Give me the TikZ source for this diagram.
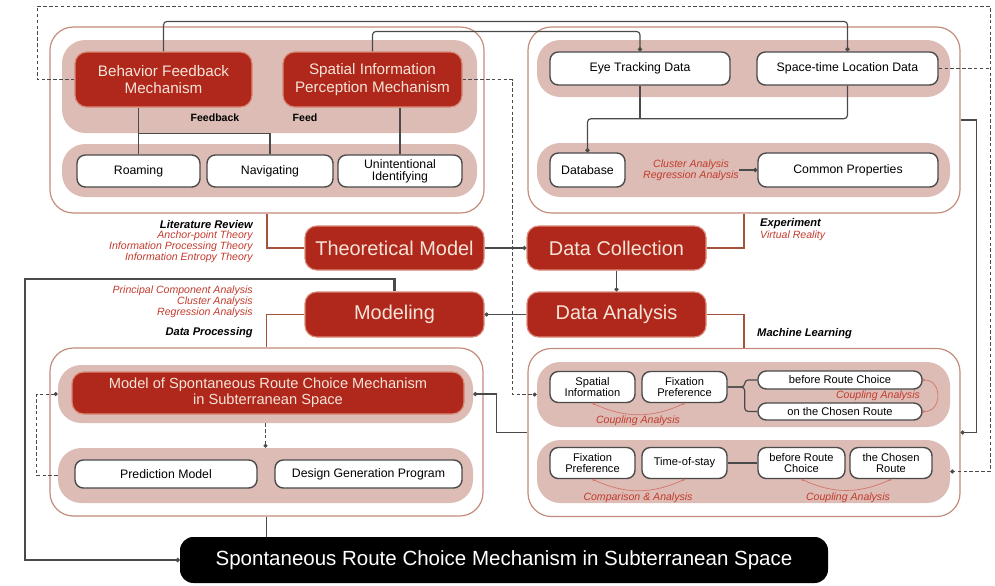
\documentclass[tikz,border=0pt]{standalone}
\usepackage{fontspec}
\setmainfont{Liberation Sans}
\usetikzlibrary{arrows.meta}

\definecolor{boxred}{HTML}{B0281C}
\definecolor{redrim}{HTML}{D98A78}
\definecolor{bandpink}{HTML}{DDBCB5}
\definecolor{panelline}{HTML}{C48A7A}
\definecolor{textcream}{HTML}{F6E4D8}
\definecolor{labelred}{HTML}{C23A2C}
\definecolor{linegrey}{HTML}{4A4A4A}
\definecolor{linebrown}{HTML}{A5523C}

\tikzset{
  sz/.style 2 args={minimum width=#1*0.3mm, minimum height=#2*0.3mm},
  panel/.style={draw=panelline, line width=1pt, fill=white, rounded corners=7mm, inner sep=0pt},
  band/.style={fill=bandpink, rounded corners=7mm, inner sep=0pt},
  redbox/.style={fill=boxred, draw=redrim, line width=1pt, rounded corners=3.5mm,
    text=textcream, align=center, inner sep=1pt},
  whitebox/.style={fill=white, draw=linegrey, line width=1.2pt, rounded corners=2.5mm,
    align=center, inner sep=1pt, font=\fontsize{10.5}{11}\selectfont},
  link/.style={draw=linegrey, line width=1pt},
  thicklink/.style={draw=linegrey, line width=2.2pt},
  dashlink/.style={draw=linegrey, densely dashed, line width=0.7pt},
  redlink/.style={draw=linebrown, line width=1.2pt},
  arclink/.style={draw=labelred!70, line width=0.6pt, {Circle[length=2pt]}-{Circle[length=2pt]}},
  dotend/.style={-{Circle[length=3.5pt]}},
  lab/.style={font=\fontsize{9.5}{9}\selectfont\bfseries\itshape, inner sep=0pt},
  redlab/.style={text=labelred, font=\fontsize{9}{8}\selectfont\itshape, inner sep=0pt},
}

\begin{document}
\begin{tikzpicture}[x=0.3mm, y=-0.3mm]
    \useasboundingbox (0,0) rectangle (995,585);

    % Panels
    \node[panel, sz={434}{186}] (tlpanel) at (267,120) {};
    \node[panel, sz={432}{186}] (trpanel) at (744,120) {};
    \node[panel, sz={433}{168}] (blpanel) at (266.5,432) {};
    \node[panel, sz={432}{168}] (brpanel) at (744,432.5) {};

    % Bands
    \node[band, sz={415}{93}] (tlrow1) at (269.5,86.5) {};
    \node[band, sz={415}{53}] (tlrow2) at (269.5,170.5) {};
    \node[band, sz={413}{57}] (trrow1) at (743.5,68.5) {};
    \node[band, sz={413}{54}] (trrow2) at (743.5,170) {};
    \node[band, sz={415}{58}] (blrow1) at (265.5,394) {};
    \node[band, sz={415}{55}] (blrow2) at (265.5,475.5) {};
    \node[band, sz={413}{65}] (brrow1) at (743.5,394.5) {};
    \node[band, sz={413}{63}] (brrow2) at (743.5,471.5) {};

    % Mechanisms
    \node[redbox, sz={177}{55}, font=\fontsize{13}{15}\selectfont] (bfm) at (163.5,79.5)
        {Behavior Feedback\\Mechanism};
    \node[redbox, sz={179}{55}, font=\fontsize{13}{15}\selectfont] (sipm) at (372.5,79.5)
        {Spatial Information\\Perception Mechanism};
    \node[font=\fontsize{9}{9}\selectfont\bfseries] (fb) at (215,118) {Feedback};
    \node[font=\fontsize{9}{9}\selectfont\bfseries] (fd) at (305,118) {Feed};
    \node[whitebox, sz={123}{32}] (roam) at (138.5,171) {Roaming};
    \node[whitebox, sz={126}{32}] (nav) at (270,171) {Navigating};
    \node[whitebox, sz={124}{32}, font=\fontsize{10.5}{10}\selectfont] (unid) at (400,171)
        {Unintentional\\Identifying};

    % Data
    \node[whitebox, sz={180}{33}] (eye) at (640,68.5) {Eye Tracking Data};
    \node[whitebox, sz={181}{33}] (stl) at (847.5,68.5) {Space-time Location Data};
    \node[whitebox, sz={75}{34}] (db) at (587.5,170) {Database};
    \node[whitebox, sz={180}{34}] (cp) at (848,170) {Common Properties};
    \node[redlab, align=center] (cra) at (691,170) {Cluster Analysis\\Regression Analysis};

    % Main steps
    \node[redbox, sz={179}{44}, font=\fontsize{17}{18}\selectfont] (theo) at (394.5,248) {Theoretical Model};
    \node[redbox, sz={179}{44}, font=\fontsize{17}{18}\selectfont] (dc) at (616.5,248) {Data Collection};
    \node[redbox, sz={179}{45}, font=\fontsize{17}{18}\selectfont] (mod) at (394.5,314.5) {Modeling};
    \node[redbox, sz={179}{45}, font=\fontsize{17}{18}\selectfont] (da) at (616.5,314.5) {Data Analysis};

    % Side labels
    \node[lab, anchor=east] (litrev) at (253,225) {Literature Review};
    \node[redlab, anchor=north east, align=right] (theories) at (253,231)
        {Anchor-point Theory\\Information Processing Theory\\Information Entropy Theory};
    \node[redlab, anchor=south east, align=right] (methods) at (253,318)
        {Principal Component Analysis\\Cluster Analysis\\Regression Analysis};
    \node[lab, anchor=east] (dproc) at (253,333) {Data Processing};
    \node[lab, anchor=west] (expe) at (760,224) {Experiment};
    \node[redlab, anchor=west] (vr) at (760,236) {Virtual Reality};
    \node[lab, anchor=west] (ml) at (757,334) {Machine Learning};

    % Model
    \node[redbox, sz={392}{42}, font=\fontsize{12.5}{14}\selectfont] (msrc) at (268,393)
        {Model of Spontaneous Route Choice Mechanism\\in Subterranean Space};
    \node[whitebox, sz={182}{28}] (pred) at (166,474) {Prediction Model};
    \node[whitebox, sz={187}{28}] (dgp) at (368.5,474) {Design Generation Program};

    % Machine learning results
    \node[whitebox, sz={85}{31}, font=\fontsize{9.5}{9}\selectfont] (si1) at (592.5,387) {Spatial\\Information};
    \node[whitebox, sz={85}{31}, font=\fontsize{9.5}{9}\selectfont] (fp1) at (684.5,387) {Fixation\\Preference};
    \node[whitebox, sz={164}{18}, font=\fontsize{9.5}{9}\selectfont] (brc1) at (840,380) {before Route Choice};
    \node[whitebox, sz={164}{17}, font=\fontsize{9.5}{9}\selectfont] (ocr) at (840,411.5) {on the Chosen Route};
    \node[whitebox, sz={85}{31}, font=\fontsize{9.5}{9}\selectfont] (fp2) at (592.5,463) {Fixation\\Preference};
    \node[whitebox, sz={85}{31}, font=\fontsize{9.5}{9}\selectfont] (tos) at (684.5,463) {Time-of-stay};
    \node[whitebox, sz={87}{31}, font=\fontsize{9.5}{9}\selectfont] (brc2) at (801.5,463) {before Route\\Choice};
    \node[whitebox, sz={82}{31}, font=\fontsize{9.5}{9}\selectfont] (tcr) at (891,463) {the Chosen\\Route};
    \node[redlab] (cpl1) at (638,421) {Coupling Analysis};
    \node[redlab] (cpl2) at (878,396) {Coupling Analysis};
    \node[redlab] (cmp) at (638,498) {Comparison \& Analysis};
    \node[redlab] (cpl3) at (848,498) {Coupling Analysis};

    % Result
    \node[fill=black, rounded corners=4mm, text=white, sz={648}{46},
        font=\fontsize{17.5}{18}\selectfont] (final) at (504,560)
        {Spontaneous Route Choice Mechanism in Subterranean Space};

    % Top connectors
    \draw[link, dotend, rounded corners=3pt] (bfm.north) -- ++(0,-30) -| (stl.north);
    \draw[link, dotend, rounded corners=3pt] (sipm.north) -- ++(0,-20) -| (eye.north);
    \draw[link] (roam.north) -- (roam.north |- bfm.south);
    \draw[link] (roam.north |- tlrow1.south) -| (nav.north);
    \draw[link] (unid.north) -- (unid.north |- sipm.south);
    \draw[link] (eye.south) -- ++(0,33);
    \draw[link, dotend, rounded corners=3pt] (stl.south) -- ++(0,33) -| (db.north);
    \draw[link, dotend] (cra.east) -- (cp.west);

    % Dashed loop
    \coordinate (topleft) at (37,6);
    \coordinate (topright) at (990,6);
    \draw[dashlink, dotend] (bfm.west) -| (topleft) -- (topright) |- (brrow2.east);
    \draw[dashlink] (stl.east) -- (stl.east -| topright);
    \draw[dashlink, dotend] (sipm.east) -- ++(50,0) |- (brrow1.west);

    % Main flow
    \draw[redlink] (tlpanel.south) |- (theo.west);
    \draw[redlink] (trpanel.south) |- (dc.east);
    \draw[link, dotend] (theo.east) -- (dc.west);
    \draw[link, dotend] (dc.south) -- (da.north);
    \draw[link, dotend] (da.west) -- (mod.east);
    \draw[redlink] (da.east) -| (brpanel.north);
    \draw[redlink] (mod.west) -| (blpanel.north);

    % Feedback to result
    \coordinate (leftcorner) at (25,279);
    \draw[thicklink, dotend] (mod.north) |- (leftcorner) |- (final.west);
    \draw[link] (blpanel.south) -- (blpanel.south |- final.north);

    % Panel links
    \draw[link, dotend] (trpanel.east) -- ++(16,0) |- (brpanel.east);
    \draw[link, dotend] (brpanel.west) -- ++(-31,0) |- (blrow1.east);
    \draw[dashlink, dotend] (blrow1.south) -- (blrow2.north);
    \draw[dashlink, dotend] (blrow2.west) -- ++(-21,0) |- (blrow1.west);

    % Inside machine learning
    \draw[link, rounded corners=3pt] (fp1.east) -- ++(17,0) |- (brc1.west);
    \draw[link, rounded corners=3pt] (fp1.east) -- ++(17,0) |- (ocr.west);
    \draw[link] (tos.east) -- (brc2.west);
    \draw[arclink] (si1.south) to[bend right=25] (fp1.south);
    \draw[arclink] (fp2.south) to[bend right=25] (tos.south);
    \draw[arclink] (brc2.south) to[bend right=25] (tcr.south);
    \draw[arclink] (brc1.east) to[out=0, in=0, looseness=1.6] (ocr.east);
\end{tikzpicture}
\end{document}
